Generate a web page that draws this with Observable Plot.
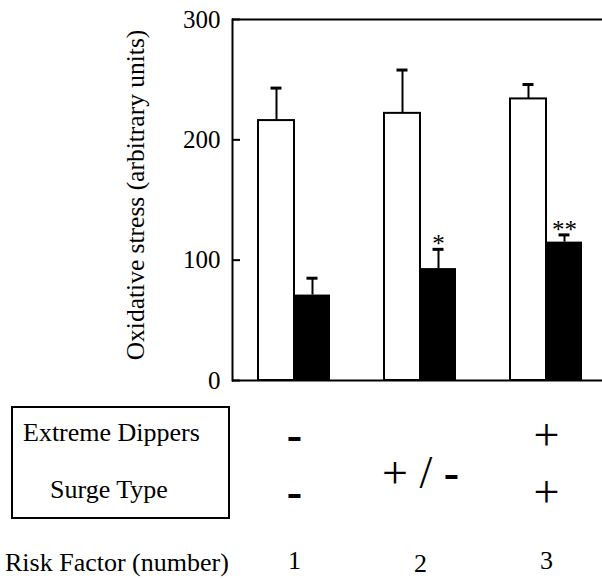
<!DOCTYPE html>
<html><head><meta charset="utf-8">
<script src="https://cdn.jsdelivr.net/npm/d3@7"></script>
<script src="https://cdn.jsdelivr.net/npm/@observablehq/plot@0.6"></script>
<style>
html,body{margin:0;padding:0;background:#fff;}
#wrap{position:relative;width:602px;height:579px;overflow:hidden;font-family:"Liberation Serif","Times New Roman",serif;background:#fff;}
#wrap svg{display:block;}
.lbl{position:absolute;font-family:"Liberation Serif","Times New Roman",serif;font-size:26px;line-height:26px;white-space:nowrap;color:#000;}
#box{position:absolute;left:11px;top:406px;width:215px;height:109px;border:2px solid #000;}
</style></head><body>
<div id="wrap"></div>
<script>
const groups = ["1","2","3"];
const openMean = [216, 222, 234];
const openErr = [27, 36, 12];
const filledMean = [71, 93, 115];
const filledErr = [14, 16, 6];
const significance = ["", "*", "**"];
const yTicks = [0, 100, 200, 300];
const extremeDippers = ["-", "", "+"];
const surgeType = ["-", "", "+"];
const eitherFactor = ["", "+ / -", ""];
const rowLabels = ["Extreme Dippers", "Surge Type"];
const countLabel = "Risk Factor (number)";
const yLabel = "Oxidative stress (arbitrary units)";

const rows = groups.map((g, i) => ({
  group: g,
  open: openMean[i], openTop: openMean[i] + openErr[i],
  filled: filledMean[i], filledTop: filledMean[i] + filledErr[i],
  sig: significance[i], dip: extremeDippers[i], surge: surgeType[i], either: eitherFactor[i]
}));

const chart = Plot.plot({
  width: 602, height: 579,
  marginTop: 19, marginBottom: 199, marginLeft: 232, marginRight: 0,
  style: {fontFamily: '"Liberation Serif", "Times New Roman", serif', fontSize: "25px", background: "white", color: "black", overflow: "visible"},
  x: {type: "band", domain: groups, range: [257.7, 581.7], paddingInner: 0.4286, paddingOuter: 0, axis: null},
  y: {domain: [0, 300], axis: null},
  marks: [
    Plot.barY(rows, {x: "group", y: "open", fill: "white", stroke: "black", strokeWidth: 2, insetRight: 36}),
    Plot.barY(rows, {x: "group", y: "filled", fill: "black", insetLeft: 36}),
    Plot.ruleX(rows, {x: "group", y1: "open", y2: "openTop", dx: -18, strokeWidth: 2}),
    Plot.tickY(rows, {x: "group", y: "openTop", insetLeft: 12.5, insetRight: 48.5, strokeWidth: 3}),
    Plot.ruleX(rows, {x: "group", y1: "filled", y2: "filledTop", dx: 18, strokeWidth: 2}),
    Plot.tickY(rows, {x: "group", y: "filledTop", insetLeft: 48.5, insetRight: 12.5, strokeWidth: 3}),
    Plot.text(rows, {x: "group", y: "filledTop", text: "sig", dx: 18, dy: -5, fontSize: 25}),
    Plot.ruleY([0, 300], {strokeWidth: 2}),
    Plot.frame({anchor: "left", strokeWidth: 2}),
    Plot.axisY(yTicks, {tickSize: -8, tickPadding: 20, strokeWidth: 2, label: null}),
    Plot.text([yLabel], {frameAnchor: "left", textAnchor: "middle", lineAnchor: "middle", rotate: -90, dx: -97, dy: -5, fontSize: 25.5}),
    Plot.text(rows, {x: "group", text: "dip", frameAnchor: "bottom", dy: 69, fontSize: 46}),
    Plot.text(rows, {x: "group", text: "surge", frameAnchor: "bottom", dy: 126, fontSize: 46}),
    Plot.text(rows, {x: "group", text: "either", frameAnchor: "bottom", dy: 107, fontSize: 46}),
    Plot.text(rows.filter(d => d.group !== "2"), {x: "group", text: "group", frameAnchor: "bottom", dy: 188, fontSize: 26}),
    Plot.text(rows.filter(d => d.group === "2"), {x: "group", text: "group", frameAnchor: "bottom", dy: 191.5, fontSize: 26})
  ]
});

d3.select(chart).selectAll("text").each(function() {
  const t = this.textContent;
  if (t === "-" || t === "+ / -") {
    const sel = d3.select(this);
    sel.text(t.slice(0, -1));
    sel.append("tspan").attr("font-weight", "bold").text("-");
  }
});

const wrap = document.getElementById("wrap");
wrap.appendChild(chart);
const box = document.createElement("div");
box.id = "box";
wrap.appendChild(box);
const labelPos = [[23, 420], [50, 477]];
rowLabels.forEach((s, i) => {
  const d = document.createElement("div");
  d.className = "lbl";
  d.style.left = labelPos[i][0] + "px";
  d.style.top = labelPos[i][1] + "px";
  d.textContent = s;
  wrap.appendChild(d);
});
const rf = document.createElement("div");
rf.className = "lbl";
rf.style.left = "5px";
rf.style.top = "550px";
rf.textContent = countLabel;
wrap.appendChild(rf);
</script>
</body></html>
